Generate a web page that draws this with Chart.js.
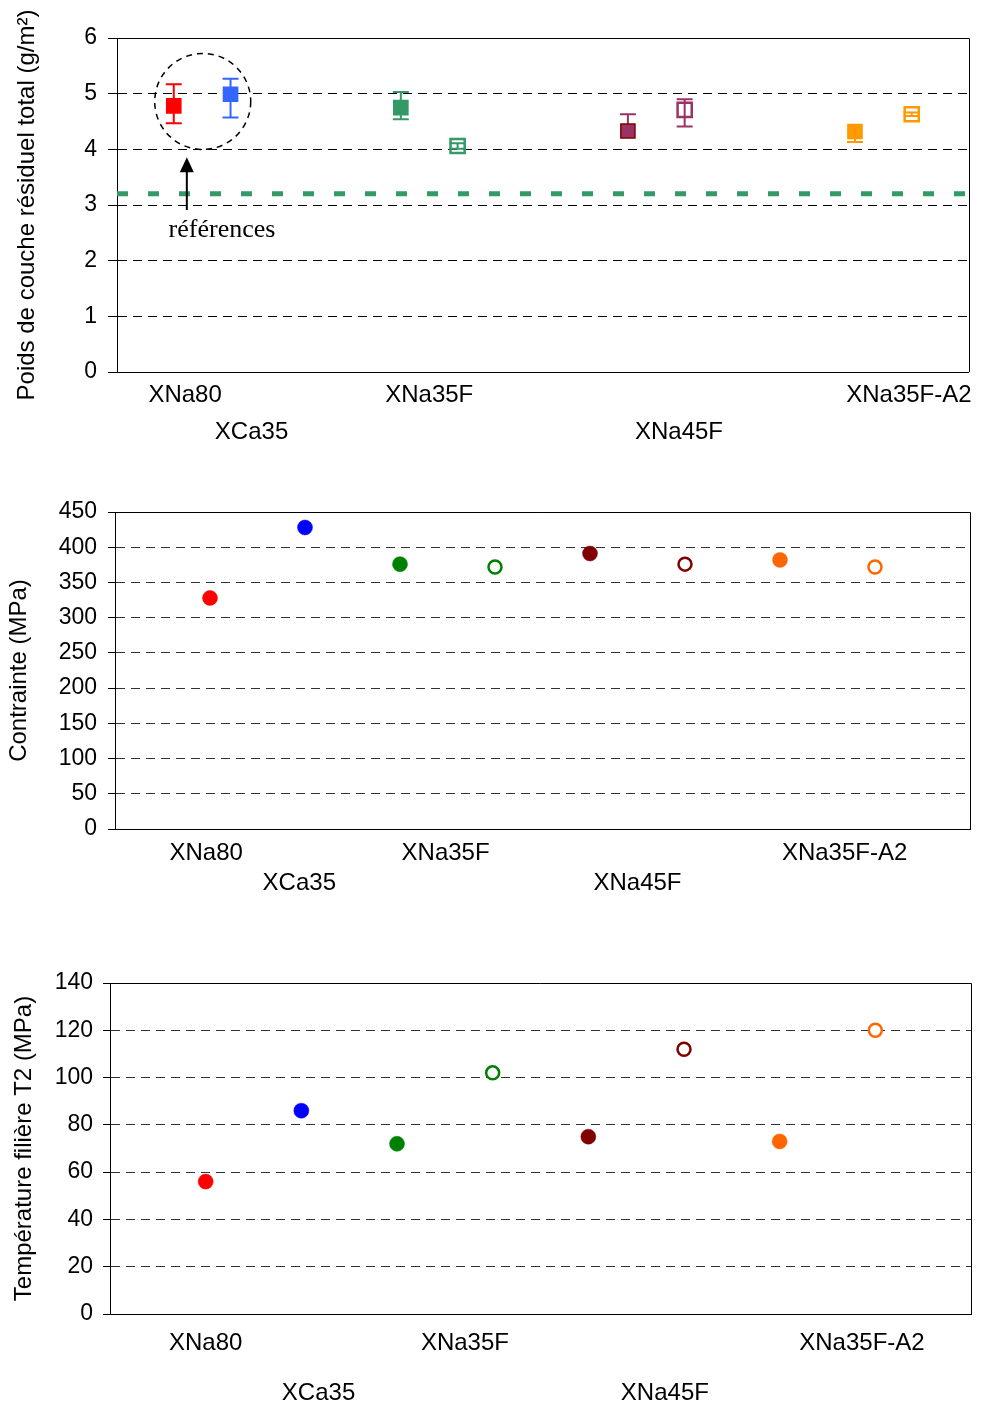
<!DOCTYPE html>
<html>
<head>
<meta charset="utf-8">
<script src="https://cdn.jsdelivr.net/npm/chart.js@4.4.0/dist/chart.umd.min.js"></script>
<style>
  body { margin: 0; background: #fff; }
  .box { position: absolute; left: 0; width: 981px; }
</style>
</head>
<body>
<div class="box" style="top:0;height:450px"><canvas id="chart1" width="981" height="450"></canvas></div>
<div class="box" style="top:460px;height:470px"><canvas id="chart2" width="981" height="470"></canvas></div>
<div class="box" style="top:940px;height:464px"><canvas id="chart3" width="981" height="464"></canvas></div>
<script>
//sample names written under the x axis, first or second row
var sampleLabels = ['XNa80', 'XCa35', 'XNa35F', 'XNa45F', 'XNa35F-A2'];
var labelRow = [0, 1, 0, 1, 0];
var labelPos1 = [1.2, 2.37, 5.5, 9.9, 13.95];
var labelPos2 = [0.96, 1.94, 3.48, 5.5, 7.68];
var labelPos3 = [1.0, 2.18, 3.71, 5.8, 7.86];

//x value of each point
var pointPos1 = [1, 2, 5, 6, 9, 10, 13, 14];
var pointPos = [1, 2, 3, 4, 5, 6, 7, 8];

//residual layer weight (g/m2) and the ends of its error bars
var weight = [4.78, 4.99, 4.75, 4.06, 4.33, 4.71, 4.32, 4.63];
var weightHigh = [5.17, 5.27, 5.03, 4.11, 4.63, 4.90, 4.32, 4.66];
var weightLow = [4.47, 4.57, 4.54, 4.01, 4.33, 4.41, 4.13, 4.60];
var refWeight = 3.2;

//stress (MPa) and die temperature
var stress = [328, 428, 376, 372, 391, 376, 382, 372];
var temperature = [56, 86, 72, 102, 75, 112, 73, 120];

//y axis ticks
var yTicks1 = [0, 1, 2, 3, 4, 5, 6];
var yTicks2 = [0, 50, 100, 150, 200, 250, 300, 350, 400, 450];
var yTicks3 = [0, 20, 40, 60, 80, 100, 120, 140];

//filled or open marker
var filled = [true, true, true, false, true, false, true, false];

Chart.defaults.font.family = '"Liberation Sans", Arial, sans-serif';
Chart.defaults.color = '#000';

//colours of the first chart (squares)
var sqColor = ['#FF0000', '#3366FF', '#339966', '#339966', '#993366', '#993366', '#FF9900', '#FF9900'];
var sqBorder = ['#FF0000', '#3366FF', '#339966', '#339966', '#800000', '#993366', '#FF9900', '#FF9900'];
//colours of the two other charts (circles)
var dotColor = ['#FF0000', '#0000FF', '#008000', '#008000', '#800000', '#800000', '#FF6600', '#FF6600'];

function xAxis(max, positions, lineHeight, pad, height) {
  return {
    type: 'linear', min: 0, max: max,
    grid: { display: false, drawTicks: false },
    border: { display: true, color: '#000', width: 1 },
    afterBuildTicks: function (scale) {
      scale.ticks = positions.map(function (v) { return { value: v }; });
    },
    afterFit: function (scale) { scale.height = height; },
    ticks: {
      autoSkip: false, maxRotation: 0, minRotation: 0, padding: pad,
      font: { size: 24, lineHeight: lineHeight },
      callback: function (v, i) {
        return labelRow[i] ? ['', sampleLabels[i]] : [sampleLabels[i], ''];
      }
    }
  };
}

function yAxis(tickVals, width, pad, tickLen, titleText, titlePad, gridColor) {
  return {
    type: 'linear',
    min: tickVals[0], max: tickVals[tickVals.length - 1],
    afterBuildTicks: function (scale) {
      scale.ticks = tickVals.map(function (v) { return { value: v }; });
    },
    afterFit: function (scale) { scale.width = width; },
    grid: { color: gridColor, tickColor: '#000', tickLength: tickLen, tickBorderDash: [], lineWidth: 1 },
    border: { color: '#000', width: 1, dash: [9, 6] },
    ticks: { padding: pad, font: { size: 23 } },
    title: { display: true, text: titleText, font: { size: 24 }, padding: { top: titlePad, bottom: 0 } }
  };
}

//solid frame on top and right of the plot
var frame = {
  id: 'frame',
  afterDraw: function (chart) {
    var a = chart.chartArea, ctx = chart.ctx;
    ctx.save();
    ctx.strokeStyle = '#000';
    ctx.lineWidth = 1;
    ctx.beginPath();
    ctx.moveTo(a.left, Math.round(a.top) + 0.5);
    ctx.lineTo(Math.round(a.right) + 0.5, Math.round(a.top) + 0.5);
    ctx.lineTo(Math.round(a.right) + 0.5, a.bottom);
    ctx.stroke();
    ctx.restore();
  }
};

//error bars of the first chart, drawn under the markers
var errorBars = {
  id: 'errorBars',
  beforeDatasetsDraw: function (chart) {
    var xs = chart.scales.x, ys = chart.scales.y, ctx = chart.ctx;
    ctx.save();
    ctx.lineWidth = 2;
    for (var i = 0; i < weight.length; i++) {
      var x = xs.getPixelForValue(pointPos1[i]);
      var top = ys.getPixelForValue(weightHigh[i]);
      var bot = ys.getPixelForValue(weightLow[i]);
      ctx.strokeStyle = sqColor[i];
      ctx.beginPath();
      ctx.moveTo(x, top);
      ctx.lineTo(x, bot);
      if (weightHigh[i] > weight[i]) { ctx.moveTo(x - 8, top); ctx.lineTo(x + 8, top); }
      if (weightLow[i] < weight[i]) { ctx.moveTo(x - 8, bot); ctx.lineTo(x + 8, bot); }
      ctx.stroke();
    }
    ctx.restore();
  }
};

//dashed circle round the references, arrow and text
var refNote = {
  id: 'refNote',
  afterDraw: function (chart) {
    var xs = chart.scales.x, ys = chart.scales.y, ctx = chart.ctx;
    ctx.save();
    ctx.strokeStyle = '#000';
    ctx.lineWidth = 1.5;
    ctx.setLineDash([6, 5]);
    ctx.beginPath();
    ctx.arc(xs.getPixelForValue(1.51), ys.getPixelForValue(4.86), 48, 0, Math.PI * 2);
    ctx.stroke();
    ctx.setLineDash([]);
    var ax = xs.getPixelForValue(1.23);
    var tip = ys.getPixelForValue(3.86);
    var base = ys.getPixelForValue(2.91);
    ctx.lineWidth = 2;
    ctx.beginPath();
    ctx.moveTo(ax, base);
    ctx.lineTo(ax, tip + 12);
    ctx.stroke();
    ctx.fillStyle = '#000';
    ctx.beginPath();
    ctx.moveTo(ax, tip);
    ctx.lineTo(ax - 7, tip + 15);
    ctx.lineTo(ax + 7, tip + 15);
    ctx.closePath();
    ctx.fill();
    ctx.font = '26px "Liberation Serif", "Times New Roman", serif';
    ctx.textAlign = 'center';
    ctx.textBaseline = 'alphabetic';
    ctx.fillText('références', xs.getPixelForValue(1.85), ys.getPixelForValue(2.43));
    ctx.restore();
  }
};

var common = {
  responsive: false,
  animation: false,
  devicePixelRatio: 1,
  plugins: { legend: { display: false }, tooltip: { enabled: false } }
};

//chart 1 : residual layer weight
new Chart(document.getElementById('chart1'), {
  type: 'scatter',
  data: {
    datasets: [
      {
        data: pointPos1.map(function (x, i) { return { x: x, y: weight[i] }; }),
        pointStyle: 'rect',
        pointRadius: 10,
        pointBackgroundColor: sqColor.map(function (c, i) { return filled[i] ? c : 'rgba(0,0,0,0)'; }),
        pointBorderColor: sqBorder,
        pointBorderWidth: filled.map(function (f) { return f ? 1.5 : 2.5; })
      },
      {
        type: 'line',
        data: [{ x: 0, y: refWeight }, { x: 15, y: refWeight }],
        borderColor: '#339966',
        borderWidth: 5,
        borderDash: [11, 20],
        pointRadius: 0
      }
    ]
  },
  options: Object.assign({}, common, {
    layout: { padding: { top: 38, right: 11, left: 0, bottom: 0 } },
    scales: {
      x: xAxis(15, labelPos1, '37px', 5, 78),
      y: yAxis(yTicks1, 117, 11, 9, 'Poids de couche résiduel total (g/m²)', 13, '#000')
    }
  }),
  plugins: [errorBars, frame, refNote]
});

function dotChart(id, values, ticks, labelPos, pad, yOpts) {
  return new Chart(document.getElementById(id), {
    type: 'scatter',
    data: {
      datasets: [{
        data: pointPos.map(function (x, i) { return { x: x, y: values[i] }; }),
        pointStyle: 'circle',
        pointRadius: filled.map(function (f) { return f ? 7.5 : 6.5; }),
        pointBackgroundColor: dotColor.map(function (c, i) { return filled[i] ? c : '#fff'; }),
        pointBorderColor: dotColor,
        pointBorderWidth: filled.map(function (f) { return f ? 0.5 : 2.5; })
      }]
    },
    options: Object.assign({}, common, {
      layout: { padding: pad },
      scales: {
        x: xAxis(9, labelPos, yOpts.lineHeight, yOpts.labelPad, yOpts.xHeight),
        y: yAxis(ticks, yOpts.width, yOpts.tickPad, 7, yOpts.title, yOpts.titlePad, '#333')
      }
    }),
    plugins: [frame]
  });
}

//chart 2 : stress
dotChart('chart2', stress, yTicks2, labelPos2, { top: 52, right: 11, left: 0, bottom: 0 }, {
  lineHeight: '30px', labelPad: 9, xHeight: 101, width: 115, tickPad: 11,
  title: 'Contrainte (MPa)', titlePad: 5
});

//chart 3 : die temperature
dotChart('chart3', temperature, yTicks3, labelPos3, { top: 43, right: 10, left: 0, bottom: 0 }, {
  lineHeight: '50px', labelPad: 4, xHeight: 90, width: 110, tickPad: 10,
  title: 'Température filière T2 (MPa)', titlePad: 10
});
</script>
</body>
</html>
